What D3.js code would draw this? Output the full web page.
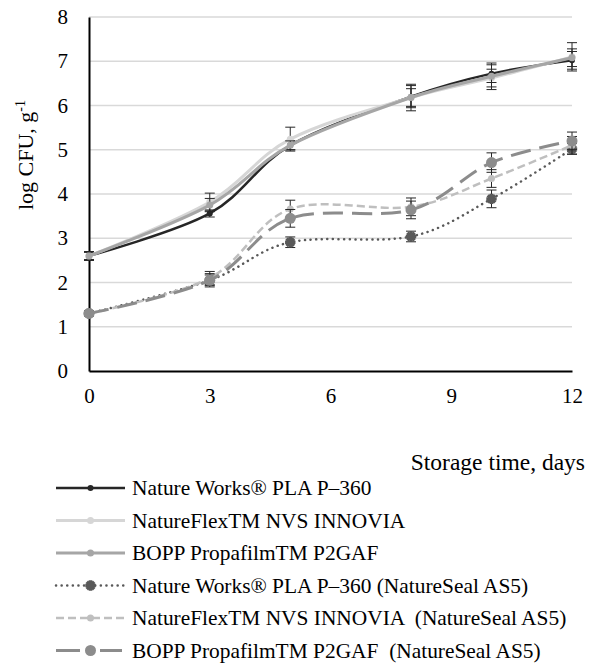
<!DOCTYPE html>
<html>
<head>
<meta charset="utf-8">
<script src="https://cdn.jsdelivr.net/npm/d3@7"></script>
<style>
  body { margin: 0; background: #fff; }
  svg text { font-family: "Liberation Serif", "Times New Roman", Times, "DejaVu Serif", serif !important; fill: #000; white-space: pre; }
</style>
</head>
<body>
<script>
// storage days
var days = [0, 3, 5, 8, 10, 12];

var names = [
  "Nature Works\u00ae PLA P\u2013360",
  "NatureFlexTM NVS INNOVIA",
  "BOPP PropafilmTM P2GAF",
  "Nature Works\u00ae PLA P\u2013360 (NatureSeal AS5)",
  "NatureFlexTM NVS INNOVIA  (NatureSeal AS5)",
  "BOPP PropafilmTM P2GAF  (NatureSeal AS5)"
];

// log CFU/g
var plaVals      = [2.6, 3.56, 5.1, 6.2, 6.72, 7.02];
var flexVals     = [2.6, 3.82, 5.24, 6.18, 6.62, 7.1];
var boppVals     = [2.6, 3.75, 5.1, 6.18, 6.66, 7.08];
var plaSealVals  = [1.3, 2.05, 2.91, 3.04, 3.89, 5.02];
var flexSealVals = [1.3, 2.1, 3.66, 3.71, 4.35, 5.1];
var boppSealVals = [1.3, 2.05, 3.45, 3.64, 4.71, 5.2];

// error bars (+/-)
var plaErr      = [0.08, 0.08, 0.1, 0.25, 0.2, 0.2];
var flexErr     = [0.1, 0.2, 0.27, 0.2, 0.2, 0.32];
var boppErr     = [0.1, 0.15, 0.1, 0.3, 0.3, 0.2];
var plaSealErr  = [0.05, 0.15, 0.12, 0.12, 0.2, 0.12];
var flexSealErr = [0.05, 0.15, 0.2, 0.2, 0.2, 0.2];
var boppSealErr = [0.05, 0.12, 0.2, 0.2, 0.22, 0.2];

var yTicks = [0, 1, 2, 3, 4, 5, 6, 7, 8];
var xTicks = [0, 3, 6, 9, 12];

var values = [plaVals, flexVals, boppVals, plaSealVals, flexSealVals, boppSealVals];
var errors = [plaErr, flexErr, boppErr, plaSealErr, flexSealErr, boppSealErr];

var styles = [
  {color: "#262626", width: 2.5, dash: null, r: 3, shape: "circle"},
  {color: "#d6d6d6", width: 3, dash: null, r: 3.5, shape: "circle"},
  {color: "#a6a6a6", width: 3, dash: null, r: 3.5, shape: "circle"},
  {color: "#595959", width: 2.5, dash: "0.1,5.5", cap: "round", r: 4.5, shape: "cross"},
  {color: "#bfbfbf", width: 2.5, dash: "8,4", r: 3.5, shape: "circle"},
  {color: "#8c8c8c", width: 3, dash: "20,9", r: 5.5, shape: "circle"}
];

var svg = d3.select("body").append("svg")
  .attr("width", 596)
  .attr("height", 664);

var x = d3.scaleLinear().domain([0, 12]).range([89, 572]);
var y = d3.scaleLinear().domain([0, 8]).range([371, 17]);

// grid
svg.append("g").selectAll("line")
  .data(yTicks.filter(function(d) { return d > 0; }))
  .enter().append("line")
    .attr("x1", x(0)).attr("x2", x(12))
    .attr("y1", function(d) { return y(d); })
    .attr("y2", function(d) { return y(d); })
    .style("stroke", "#d9d9d9")
    .style("stroke-width", 1.5);

// axes
var yAxis = svg.append("g")
  .attr("transform", "translate(" + x(0) + ",0)")
  .call(d3.axisLeft(y).tickValues(yTicks).tickSize(0).tickPadding(21).tickFormat(d3.format("d")));
var xAxis = svg.append("g")
  .attr("transform", "translate(0," + y(0) + ")")
  .call(d3.axisBottom(x).tickValues(xTicks).tickSize(0).tickPadding(17).tickFormat(d3.format("d")));
[yAxis, xAxis].forEach(function(a) {
  a.attr("font-family", null);
  a.select(".domain").style("stroke", "#000").style("stroke-width", 2);
  a.selectAll("text").style("font-size", "21px");
});

// series
var line = d3.line()
  .x(function(d) { return x(d.day); })
  .y(function(d) { return y(d.v); })
  .curve(d3.curveCardinal.tension(0));

var crossPath = d3.symbol().type(d3.symbolCross).size(60);

function drawMarker(g, st, cx, cy) {
  if (st.shape === "cross") {
    g.append("path")
      .attr("d", crossPath())
      .attr("transform", "translate(" + cx + "," + cy + ") rotate(45)")
      .style("fill", st.color);
    g.append("path")
      .attr("d", crossPath())
      .attr("transform", "translate(" + cx + "," + cy + ")")
      .style("fill", st.color);
  } else {
    g.append("circle")
      .attr("cx", cx).attr("cy", cy).attr("r", st.r)
      .style("fill", st.color);
  }
}

values.forEach(function(vals, i) {
  var st = styles[i];
  var pts = days.map(function(d, j) { return {day: d, v: vals[j], e: errors[i][j]}; });
  var g = svg.append("g");

  // error bars
  pts.forEach(function(p) {
    var cx = x(p.day), y1 = y(p.v + p.e), y2 = y(p.v - p.e);
    g.append("line").attr("x1", cx).attr("x2", cx).attr("y1", y1).attr("y2", y2)
      .style("stroke", "#262626").style("stroke-width", 1);
    [y1, y2].forEach(function(yy) {
      g.append("line").attr("x1", cx - 5).attr("x2", cx + 5).attr("y1", yy).attr("y2", yy)
        .style("stroke", "#262626").style("stroke-width", 1);
    });
  });

  g.append("path")
    .attr("d", line(pts))
    .style("fill", "none")
    .style("stroke", st.color)
    .style("stroke-width", st.width)
    .style("stroke-dasharray", st.dash)
    .style("stroke-linecap", st.cap || "butt");

  pts.forEach(function(p) { drawMarker(g, st, x(p.day), y(p.v)); });
});

// axis titles
var yt = svg.append("text")
  .attr("transform", "translate(33,155) rotate(-90)")
  .attr("text-anchor", "middle")
  .style("font-size", "22px");
yt.append("tspan").text("log CFU, g");
yt.append("tspan").attr("dy", -8).style("font-size", "14px").text("-1");

svg.append("text")
  .attr("x", 585).attr("y", 470)
  .attr("text-anchor", "end")
  .style("font-size", "23.5px")
  .text("Storage time, days");

// legend
var legend = svg.append("g");
names.forEach(function(n, i) {
  var st = styles[i];
  var by = 495 + i * 32.5, cy = by - 7;
  var lg = legend.append("g");
  if (i === 5) {
    lg.append("line").attr("x1", 56).attr("x2", 80).attr("y1", cy).attr("y2", cy)
      .style("stroke", st.color).style("stroke-width", st.width);
    lg.append("line").attr("x1", 100).attr("x2", 122).attr("y1", cy).attr("y2", cy)
      .style("stroke", st.color).style("stroke-width", st.width);
  } else {
    lg.append("line").attr("x1", 56).attr("x2", 125).attr("y1", cy).attr("y2", cy)
      .style("stroke", st.color).style("stroke-width", st.width)
      .style("stroke-dasharray", st.dash)
      .style("stroke-linecap", st.cap || "butt");
  }
  drawMarker(lg, st, 90.5, cy);
  lg.append("text").attr("x", 132).attr("y", by)
    .style("font-size", "21.4px")
    .text(n);
});
</script>
</body>
</html>
